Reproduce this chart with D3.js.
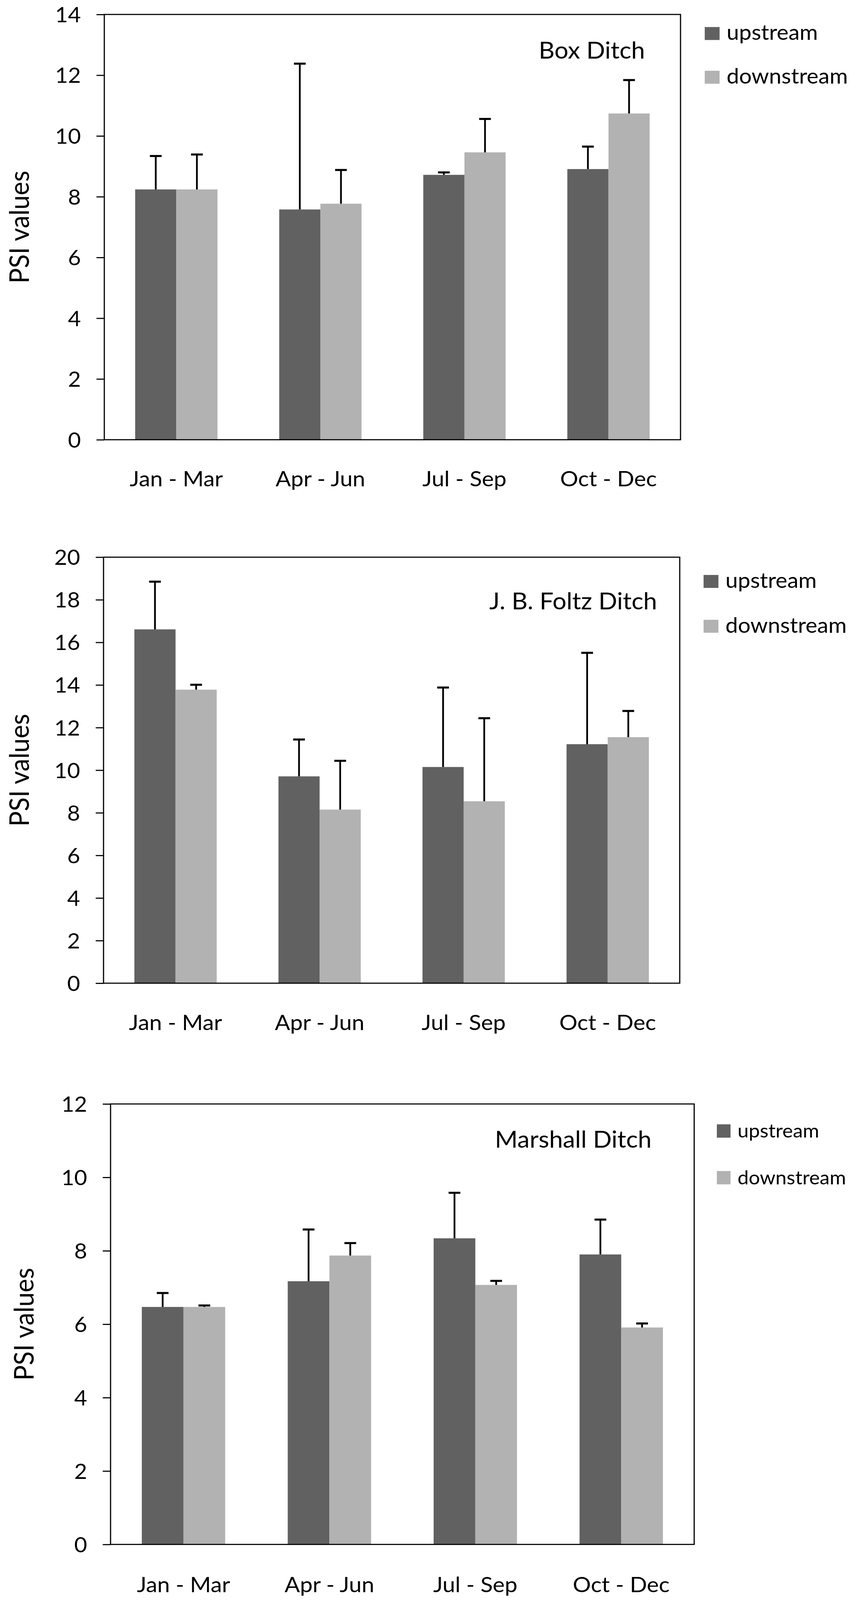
<!DOCTYPE html>
<html>
<head>
<meta charset="utf-8">
<script src="https://cdn.jsdelivr.net/npm/d3@7"></script>
<style>
  html, body { margin: 0; padding: 0; background: #fff; overflow: hidden; }
  svg { display: block; }
  text { font-family: Lato, "Open Sans", sans-serif; fill: #000; }
</style>
</head>
<body>
<svg id="chart"></svg>
<script>
// ---------- data ----------
const categories = ["Jan - Mar", "Apr - Jun", "Jul - Sep", "Oct - Dec"];
const seriesNames = ["upstream", "downstream"];
const panelTitles = ["Box Ditch", "J. B. Foltz Ditch", "Marshall Ditch"];
const yAxisTitle = "PSI values";

const boxTicks = [0, 2, 4, 6, 8, 10, 12, 14];
const boxUp = [8.24, 7.58, 8.72, 8.91];
const boxUpErr = [1.10, 4.80, 0.08, 0.74];
const boxDown = [8.24, 7.77, 9.46, 10.74];
const boxDownErr = [1.15, 1.11, 1.10, 1.10];

const foltzTicks = [0, 2, 4, 6, 8, 10, 12, 14, 16, 18, 20];
const foltzUp = [16.61, 9.71, 10.15, 11.22];
const foltzUpErr = [2.24, 1.73, 3.73, 4.29];
const foltzDown = [13.78, 8.15, 8.54, 11.55];
const foltzDownErr = [0.23, 2.29, 3.90, 1.23];

const marshallTicks = [0, 2, 4, 6, 8, 10, 12];
const marshallUp = [6.47, 7.17, 8.34, 7.90];
const marshallUpErr = [0.38, 1.41, 1.24, 0.95];
const marshallDown = [6.47, 7.87, 7.07, 5.91];
const marshallDownErr = [0.04, 0.34, 0.11, 0.11];

// ---------- styles ----------
const seriesColors = ["#616161", "#b2b2b2"];

// ---------- layout (pixel geometry of each panel, in a 2204 x 4319 frame) ----------
const W = 2204, H = 4319;
const layouts = [
  { left: 267, right: 1742, top: 39, bottom: 1187, yTitleX: 74, labelDy: 126,
    titleX: 1651, titleY: 158, legX: 1804, legY: 73, legGap: 118, legW: 38, legH: 35, legFont: 57 },
  { left: 265, right: 1740, top: 1504, bottom: 2654, yTitleX: 74, labelDy: 127,
    titleX: 1682, titleY: 1645, legX: 1801, legY: 1552, legGap: 121, legW: 38, legH: 35, legFont: 57 },
  { left: 283, right: 1777, top: 2980, bottom: 4169, yTitleX: 86, labelDy: 129,
    titleX: 1668, titleY: 3098, legX: 1835, legY: 3035, legGap: 126, legW: 35, legH: 36, legFont: 51 }
];

const panels = [
  { title: panelTitles[0], ticks: boxTicks, values: [boxUp, boxDown], errors: [boxUpErr, boxDownErr] },
  { title: panelTitles[1], ticks: foltzTicks, values: [foltzUp, foltzDown], errors: [foltzUpErr, foltzDownErr] },
  { title: panelTitles[2], ticks: marshallTicks, values: [marshallUp, marshallDown], errors: [marshallUpErr, marshallDownErr] }
];

// fit the whole drawing into the visible window
const vw = window.innerWidth || W;
const vh = window.innerHeight || H;
const svg = d3.select("#chart")
  .attr("width", vw)
  .attr("height", Math.min(vh, H))
  .attr("viewBox", `0 0 ${W} ${H}`)
  .attr("preserveAspectRatio", "none");

panels.forEach((p, pi) => {
  const L = layouts[pi];
  const g = svg.append("g");

  const x = d3.scaleBand().domain(categories).range([L.left, L.right]).padding(0);
  const xs = d3.scaleBand().domain(seriesNames).range([0, x.bandwidth()])
    .paddingInner(0).paddingOuter(0.75);
  const y = d3.scaleLinear().domain([p.ticks[0], p.ticks[p.ticks.length - 1]]).range([L.bottom, L.top]);

  const rows = [];
  categories.forEach((c, ci) => {
    seriesNames.forEach((s, si) => {
      rows.push({ cat: c, series: s, si: si, v: p.values[si][ci], e: p.errors[si][ci] });
    });
  });

  // bars
  g.selectAll("rect.bar").data(rows).join("rect")
    .attr("class", "bar")
    .attr("x", d => x(d.cat) + xs(d.series))
    .attr("width", xs.bandwidth())
    .attr("y", d => y(d.v))
    .attr("height", d => y(0) - y(d.v))
    .attr("fill", d => seriesColors[d.si]);

  // error bars (plus direction)
  const capW = 30;
  const cx = d => x(d.cat) + xs(d.series) + xs.bandwidth() / 2;
  const eb = g.selectAll("g.err").data(rows).join("g").attr("class", "err");
  eb.append("line")
    .attr("x1", cx).attr("x2", cx)
    .attr("y1", d => y(d.v))
    .attr("y2", d => y(d.v + d.e))
    .attr("stroke", "#000").attr("stroke-width", 4.5);
  eb.append("line")
    .attr("x1", d => cx(d) - capW / 2)
    .attr("x2", d => cx(d) + capW / 2)
    .attr("y1", d => y(d.v + d.e))
    .attr("y2", d => y(d.v + d.e))
    .attr("stroke", "#000").attr("stroke-width", 5.5);

  // frame
  g.append("rect")
    .attr("x", L.left).attr("y", L.top)
    .attr("width", L.right - L.left).attr("height", L.bottom - L.top)
    .attr("fill", "none").attr("stroke", "#000").attr("stroke-width", 3);

  // y axis
  const yAxis = d3.axisLeft(y).tickValues(p.ticks).tickSize(20).tickPadding(40)
    .tickFormat(d3.format("d"));
  const ya = g.append("g").attr("transform", `translate(${L.left},0)`).call(yAxis);
  ya.select(".domain").remove();
  ya.selectAll(".tick line").attr("stroke", "#000").attr("stroke-width", 3);
  ya.selectAll(".tick text").attr("font-family", "Lato").attr("font-size", 57)
    .attr("fill", "#000").attr("dy", "0.36em");

  // x axis labels
  const xAxis = d3.axisBottom(x).tickSize(0).tickPadding(L.labelDy);
  const xa = g.append("g").attr("transform", `translate(0,${L.bottom})`).call(xAxis);
  xa.select(".domain").remove();
  xa.selectAll(".tick text").attr("font-family", "Lato").attr("font-size", 58)
    .attr("fill", "#000").attr("dy", "0").attr("y", L.labelDy);

  // y title
  g.append("text")
    .attr("transform", `translate(${L.yTitleX},${(L.top + L.bottom) / 2}) rotate(-90)`)
    .attr("text-anchor", "middle")
    .attr("font-size", 69)
    .text(yAxisTitle);

  // panel title
  g.append("text")
    .attr("x", L.titleX).attr("y", L.titleY)
    .attr("text-anchor", "end")
    .attr("font-size", 63)
    .text(p.title);

  // legend
  const leg = g.selectAll("g.leg").data(seriesNames).join("g").attr("class", "leg")
    .attr("transform", (d, i) => `translate(${L.legX},${L.legY + i * L.legGap})`);
  leg.append("rect").attr("width", L.legW).attr("height", L.legH)
    .attr("fill", (d, i) => seriesColors[i]);
  leg.append("text").attr("x", L.legW + 18).attr("y", L.legH)
    .attr("font-size", L.legFont).text(d => d);
});
</script>
</body>
</html>
